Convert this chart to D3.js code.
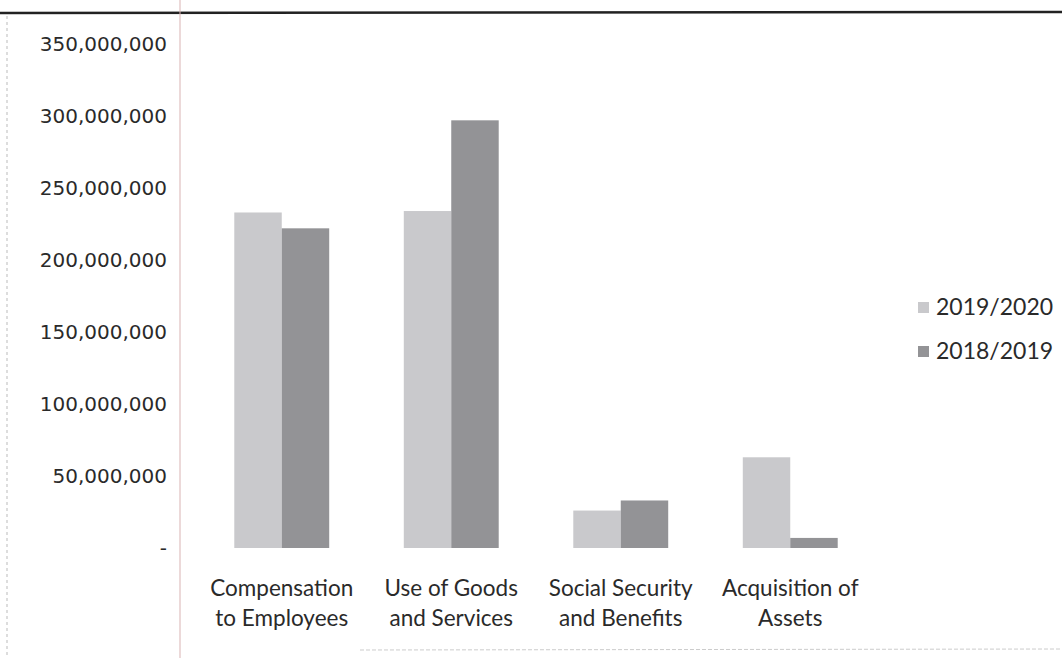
<!DOCTYPE html>
<html><head><meta charset="utf-8">
<script src="https://cdn.jsdelivr.net/npm/d3@7"></script>
<style>body{margin:0;background:#fff}</style>
</head><body>
<svg id="c" width="1062" height="658"></svg>
<script>
const categories = [["Compensation","to Employees"],["Use of Goods","and Services"],["Social Security","and Benefits"],["Acquisition of","Assets"]];
const seriesNames = ["2019/2020","2018/2019"];
const values2019_2020 = [233000000, 234000000, 26000000, 63000000];
const values2018_2019 = [222000000, 297000000, 33000000, 7000000];
const yTicks = [0,50000000,100000000,150000000,200000000,250000000,300000000,350000000];
const colors = ["#c9c9cc","#939396"];

const svg = d3.select("#c");
// page decorations (scan)
svg.append("line").attr("x1",0).attr("x2",1062).attr("y1",13).attr("y2",12).attr("stroke","#222").attr("stroke-width",2.5);
svg.append("line").attr("x1",7).attr("x2",7).attr("y1",16).attr("y2",658).attr("stroke","#bbb").attr("stroke-dasharray","3,3");
svg.append("line").attr("x1",180).attr("x2",180).attr("y1",0).attr("y2",658).attr("stroke","#d9b3b3").attr("stroke-width",1);
svg.append("line").attr("x1",360).attr("x2",1062).attr("y1",650).attr("y2",649).attr("stroke","#ccc").attr("stroke-dasharray","4,2");

const y = d3.scaleLinear().domain([0,350000000]).range([548,44]);
const x = d3.scaleBand().domain(d3.range(categories.length)).range([197,875]).paddingInner(0.44).paddingOuter(0.22);
const xs = d3.scaleBand().domain(seriesNames).range([0,x.bandwidth()]);

const fmt = v => v===0 ? "-" : d3.format(",")(v);
const yAxis = d3.axisLeft(y).tickValues(yTicks).tickFormat(fmt).tickSize(0).tickPadding(0);
const ga = svg.append("g").attr("transform","translate(167,0)").call(yAxis);
ga.select(".domain").remove();
ga.selectAll("text").attr("font-family","DejaVu Sans").attr("font-size",20).attr("fill","#2a2a2a");

const data = [values2019_2020, values2018_2019];
data.forEach((vals,si)=>{
  svg.append("g").selectAll("rect").data(vals).join("rect")
    .attr("x",(d,i)=>x(i)+xs(seriesNames[si]))
    .attr("y",d=>y(d))
    .attr("width",xs.bandwidth())
    .attr("height",d=>y(0)-y(d))
    .attr("fill",colors[si]);
});

const xAxis = d3.axisBottom(x).tickSize(0).tickFormat("");
const gx = svg.append("g").attr("transform","translate(0,548)").call(xAxis);
gx.select(".domain").remove();
categories.forEach((lines,i)=>{
  const t = svg.append("text").attr("x",x(i)+x.bandwidth()/2).attr("y",596)
    .attr("text-anchor","middle").attr("font-family","Lato").attr("font-size",22.5).attr("fill","#2a2a2a");
  lines.forEach((l,j)=>t.append("tspan").attr("x",x(i)+x.bandwidth()/2).attr("dy",j?30:0).text(l));
});

const lg = svg.append("g");
seriesNames.forEach((s,i)=>{
  const yy = 308 + i*44;
  lg.append("rect").attr("x",918).attr("y",yy-6).attr("width",11).attr("height",11).attr("fill",colors[i]);
  lg.append("text").attr("x",936).attr("y",yy+7).attr("font-family","Lato").attr("font-size",23).attr("fill","#2a2a2a").text(s);
});
</script>
</body></html>
